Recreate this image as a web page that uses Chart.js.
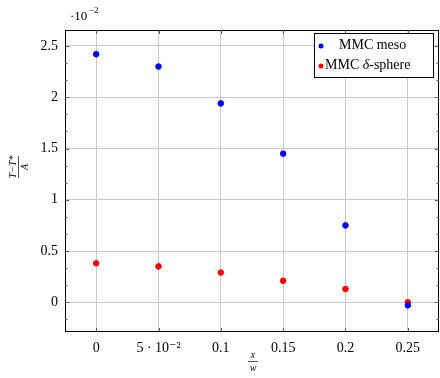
<!DOCTYPE html>
<html>
<head>
<meta charset="utf-8">
<script src="https://cdn.jsdelivr.net/npm/chart.js@4"></script>
<style>
  body { margin: 0; background: #fff; }
  #wrap { width: 440px; height: 378px; position: relative; }
</style>
</head>
<body>
<div id="wrap"><canvas id="myChart"></canvas></div>
<script>
// x / w positions
const xPos = [0, 0.05, 0.1, 0.15, 0.2, 0.25];
// (T - T*) / A, in units of 1e-2
const mesoVals = [2.42, 2.30, 1.94, 1.45, 0.75, -0.03];
const sphereVals = [0.38, 0.35, 0.29, 0.21, 0.13, 0.0];
const xTickLabels = ['0', '5 · 10⁻²', '0.1', '0.15', '0.2', '0.25'];
const yTickLabels = ['0', '0.5', '1', '1.5', '2', '2.5'];
const yTickVals = [0, 0.5, 1, 1.5, 2, 2.5];

const serif = '"Liberation Serif", "DejaVu Serif", serif';

function pts(vals) {
  return xPos.map((x, i) => ({ x: x, y: vals[i] }));
}

// frame, small ticks on every side, fractions and the 10^-2 factor
const decor = {
  id: 'decor',
  afterDraw(chart) {
    const c = chart.ctx, a = chart.chartArea;
    const xs = chart.scales.x, ys = chart.scales.y;
    c.save();
    c.strokeStyle = '#000';
    c.lineWidth = 1;
    c.strokeRect(a.left + 0.5, a.top + 0.5, a.right - a.left - 1, a.bottom - a.top - 1);

    c.strokeStyle = '#555';
    c.beginPath();
    xTickLabels.forEach((_, i) => {
      const px = Math.round(xs.getPixelForValue(xPos[i])) + 0.5;
      c.moveTo(px, a.top); c.lineTo(px, a.top + 4);
      c.moveTo(px, a.bottom); c.lineTo(px, a.bottom - 4);
    });
    for (let v = -0.5; v <= 2.75; v += 0.5 / 3) {
      const py = Math.round(ys.getPixelForValue(v)) + 0.5;
      if (py < a.top || py > a.bottom) continue;
      const major = Math.abs(v / 0.5 - Math.round(v / 0.5)) < 1e-6;
      const len = major ? 4 : 2.5;
      c.moveTo(a.left, py); c.lineTo(a.left + len, py);
      c.moveTo(a.right, py); c.lineTo(a.right - len, py);
    }
    c.stroke();

    c.fillStyle = '#000';
    // exponent factor
    c.font = '13px ' + serif;
    c.textBaseline = 'alphabetic';
    c.textAlign = 'left';
    c.fillText('·10', 70, 20);
    c.font = '9px ' + serif;
    c.fillText('−2', 89, 13);

    // x label  x / w
    c.textAlign = 'center';
    c.font = 'italic 10px ' + serif;
    c.fillText('x', 253, 358);
    c.fillText('w', 253, 371);
    c.beginPath();
    c.moveTo(248, 361.5); c.lineTo(258, 361.5);
    c.stroke();

    // y label  (T - T*) / A rotated
    c.save();
    c.translate(19, 167);
    c.rotate(-Math.PI / 2);
    c.font = 'italic 10px ' + serif;
    c.fillText('T−T*', 0, -3);
    c.fillText('A', 0, 9);
    c.beginPath();
    c.moveTo(-11, -0.5); c.lineTo(11, -0.5);
    c.stroke();
    c.restore();

    // legend box
    const lx = 314, ly = 33, lw = 119, lh = 44;
    c.fillStyle = '#fff';
    c.fillRect(lx, ly, lw, lh);
    c.strokeStyle = '#000';
    c.strokeRect(lx + 0.5, ly + 0.5, lw, lh);
    c.textAlign = 'left';
    c.textBaseline = 'middle';
    chart.data.datasets.forEach((ds, i) => {
      const yy = ly + 12 + i * 20;
      c.fillStyle = ds.backgroundColor;
      c.beginPath();
      c.arc(lx + 7, yy + 1, 2.5, 0, Math.PI * 2);
      c.fill();
      c.fillStyle = '#000';
      c.font = '14px ' + serif;
      if (i === 0) {
        c.fillText(ds.label, lx + 25, yy);
      } else {
        c.fillText('MMC ', lx + 11, yy);
        let w = c.measureText('MMC ').width;
        c.font = 'italic 14px ' + serif;
        c.fillText('δ', lx + 11 + w, yy);
        w += c.measureText('δ').width;
        c.font = '14px ' + serif;
        c.fillText('-sphere', lx + 11 + w, yy);
      }
    });
    c.restore();
  }
};

new Chart('myChart', {
  type: 'scatter',
  data: {
    datasets: [
      { label: 'MMC meso', data: pts(mesoVals), backgroundColor: '#0000ff', borderColor: '#0000ff', pointRadius: 2.8, pointHoverRadius: 2.8 },
      { label: 'MMC δ-sphere', data: pts(sphereVals), backgroundColor: '#ff0000', borderColor: '#ff0000', pointRadius: 2.8, pointHoverRadius: 2.8 }
    ]
  },
  options: {
    responsive: true,
    maintainAspectRatio: false,
    animation: false,
    layout: { autoPadding: false, padding: { top: 30, right: 1, left: 0, bottom: 0 } },
    plugins: { legend: { display: false }, tooltip: { enabled: false } },
    scales: {
      x: {
        type: 'linear',
        min: -0.025,
        max: 0.275,
        afterFit(s) { s.height = 46; s.paddingLeft = 0; s.paddingRight = 0; },
        afterBuildTicks(s) { s.ticks = xPos.map(v => ({ value: v })); },
        grid: { color: '#c8c8c8', lineWidth: 1, drawTicks: false },
        border: { display: false },
        ticks: {
          padding: 8,
          color: '#000',
          font: { family: serif, size: 14 },
          callback: (v) => {
            const i = xPos.findIndex(p => Math.abs(p - v) < 1e-9);
            return i >= 0 ? xTickLabels[i] : '';
          }
        }
      },
      y: {
        type: 'linear',
        min: -0.29,
        max: 2.656,
        afterFit(s) { s.width = 65; s.paddingTop = 0; s.paddingBottom = 0; },
        afterBuildTicks(s) { s.ticks = yTickVals.map(v => ({ value: v })); },
        grid: { color: '#c8c8c8', lineWidth: 1, drawTicks: false },
        border: { display: false },
        ticks: {
          padding: 7,
          color: '#000',
          font: { family: serif, size: 14 },
          callback: (v) => {
            const i = yTickVals.findIndex(p => Math.abs(p - v) < 1e-9);
            return i >= 0 ? yTickLabels[i] : '';
          }
        }
      }
    }
  },
  plugins: [decor]
});
</script>
</body>
</html>
